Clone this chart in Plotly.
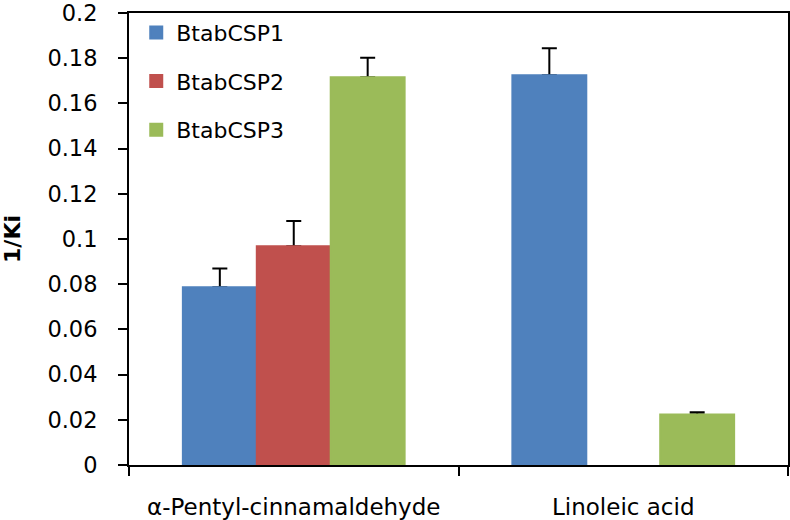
import plotly.graph_objects as go

categories = ["α-Pentyl-cinnamaldehyde", "Linoleic acid"]
series_names = ["BtabCSP1", "BtabCSP2", "BtabCSP3"]
csp1 = [0.0786, 0.1725]
csp2 = [0.0968, None]
csp3 = [0.1716, 0.0223]
err1 = [0.0084, 0.0119]
err2 = [0.0112, 0]
err3 = [0.0086, 0.0010]
colors = ["#4F81BD", "#C0504D", "#9BBB59"]
y_ticks = [0, 0.02, 0.04, 0.06, 0.08, 0.1, 0.12, 0.14, 0.16, 0.18, 0.2]
y_ticktext = ["0", "0.02", "0.04", "0.06", "0.08", "0.1", "0.12", "0.14", "0.16", "0.18", "0.2"]

FONT = "DejaVu Sans"
fig = go.Figure()
# error bars first (upper only visible; the lower cap is hidden under the bars drawn after)
for i, (name, vals, errs) in enumerate(zip(series_names, [csp1, csp2, csp3], [err1, err2, err3])):
    fig.add_trace(go.Bar(
        x=categories, y=vals, name=name, offsetgroup=str(i), showlegend=False,
        marker=dict(color="rgba(0,0,0,0)", line=dict(width=0)), hoverinfo="skip",
        error_y=dict(type="data", symmetric=False, array=errs, arrayminus=[0]*len(errs),
                     color="black", thickness=2, width=7.5),
    ))
# coloured bars on top
for i, (name, vals, col) in enumerate(zip(series_names, [csp1, csp2, csp3], colors)):
    fig.add_trace(go.Bar(
        x=categories, y=vals, name=name, offsetgroup=str(i), legendgroup=name,
        marker=dict(color=col, line=dict(width=2, color=col)),
    ))

fig.update_layout(
    width=790, height=520,
    margin=dict(l=129, r=2, t=13, b=55),
    paper_bgcolor="white", plot_bgcolor="white",
    barmode="group", bargap=0.327, bargroupgap=0,
    font=dict(family=FONT, size=22, color="black"),
    showlegend=True,
    legend=dict(x=0.011, y=1.003, xanchor="left", yanchor="top",
                font=dict(family=FONT, size=22, color="black"),
                tracegroupgap=17, bgcolor="rgba(0,0,0,0)"),
)
fig.update_xaxes(
    showline=True, linecolor="black", linewidth=2, mirror=True,
    ticks="outside", tickson="boundaries", ticklen=9, tickwidth=2, tickcolor="black",
    ticklabelstandoff=20, showgrid=False, automargin=False,
    tickfont=dict(family=FONT, size=23, color="black"),
)
fig.update_yaxes(
    range=[0, 0.20001], tickvals=y_ticks, ticktext=y_ticktext,
    showline=True, linecolor="black", linewidth=2, mirror=True,
    ticks="outside", ticklen=9, tickwidth=2, tickcolor="black",
    ticklabelstandoff=16, ticklabeloverflow="allow", showgrid=False, zeroline=False,
    tickfont=dict(family=FONT, size=22.5, color="black"),
    title=dict(text="<b>1/Ki</b>", font=dict(family=FONT, size=22, color="black"), standoff=22),
    automargin=False,
)
fig.write_html("out.html", config={"displayModeBar": False},
               post_script="document.body.style.margin='0px';")
